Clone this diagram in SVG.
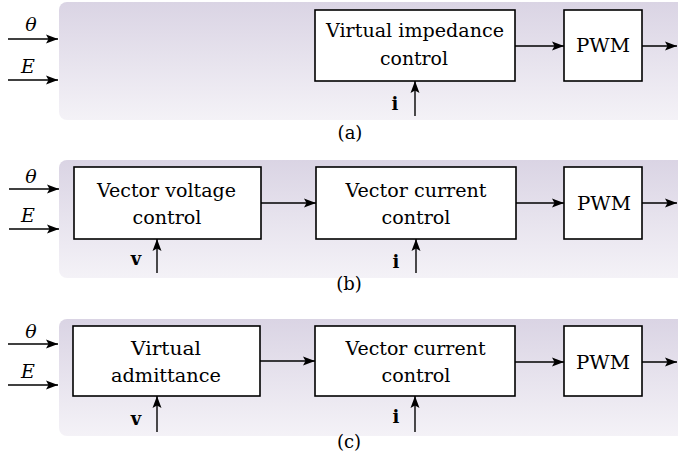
<svg xmlns="http://www.w3.org/2000/svg" width="678" height="465" viewBox="0 0 678 465">
<style>
.bg{fill:url(#g);stroke:none}
.box{fill:#fff;stroke:#000;stroke-width:1.6}
.ln{fill:none;stroke:#000;stroke-width:1.4;marker-end:url(#ah)}
.t{font-family:"DejaVu Serif","Liberation Serif",serif;font-size:19px;fill:#000;text-anchor:middle}
.m{font-family:"DejaVu Serif","Liberation Serif",serif;font-size:19px;font-style:italic;fill:#000;text-anchor:middle}
.b{font-family:"DejaVu Serif","Liberation Serif",serif;font-size:18px;font-weight:bold;fill:#000;text-anchor:middle}
.c{font-family:"DejaVu Serif","Liberation Serif",serif;font-size:18px;fill:#000;text-anchor:middle}
</style>
<defs>
<linearGradient id="g" x1="0" y1="0" x2="0" y2="1">
<stop offset="0" stop-color="#dad4e4"/>
<stop offset="1" stop-color="#f4f2f7"/>
</linearGradient>
<marker id="ah" viewBox="0 0 12 10" refX="12" refY="5" markerWidth="12" markerHeight="10" markerUnits="userSpaceOnUse" orient="auto">
<path d="M0,0.5 L12,5 L0,9.5 L2.5,5 z" fill="#000"/>
</marker>
</defs>

<!-- panel backgrounds -->
<g id="panels">
<rect class="bg" x="59" y="2" width="640" height="118" rx="8"/>
<rect class="bg" x="59" y="160" width="640" height="118" rx="8"/>
<rect class="bg" x="59" y="319" width="640" height="117" rx="8"/>
</g>

<!-- panel (a) -->
<g id="a-vic">
<rect class="box" x="315" y="10" width="200" height="71"/>
<text class="t" x="415" y="37" textLength="178" lengthAdjust="spacingAndGlyphs">Virtual impedance</text>
<text class="t" x="414" y="65" textLength="68" lengthAdjust="spacingAndGlyphs">control</text>
</g>
<g id="a-pwm">
<rect class="box" x="564" y="10" width="78" height="71"/>
<text class="t" x="603" y="52" textLength="54" lengthAdjust="spacingAndGlyphs">PWM</text>
</g>

<!-- panel (b) -->
<g id="b-vvc">
<rect class="box" x="74" y="167" width="187" height="72"/>
<text class="t" x="166.5" y="196.5" textLength="139" lengthAdjust="spacingAndGlyphs">Vector voltage</text>
<text class="t" x="167" y="223.5" textLength="69" lengthAdjust="spacingAndGlyphs">control</text>
</g>
<g id="b-vcc">
<rect class="box" x="316" y="167" width="200" height="72"/>
<text class="t" x="416" y="196.5" textLength="141" lengthAdjust="spacingAndGlyphs">Vector current</text>
<text class="t" x="416" y="223.5" textLength="69" lengthAdjust="spacingAndGlyphs">control</text>
</g>
<g id="b-pwm">
<rect class="box" x="564" y="167" width="78" height="72"/>
<text class="t" x="604" y="210" textLength="54" lengthAdjust="spacingAndGlyphs">PWM</text>
</g>

<!-- panel (c) -->
<g id="c-va">
<rect class="box" x="73" y="326" width="187" height="70"/>
<text class="t" x="166" y="355" textLength="70" lengthAdjust="spacingAndGlyphs">Virtual</text>
<text class="t" x="166" y="382" textLength="110" lengthAdjust="spacingAndGlyphs">admittance</text>
</g>
<g id="c-vcc">
<rect class="box" x="315" y="326" width="200" height="70"/>
<text class="t" x="415.5" y="355" textLength="140" lengthAdjust="spacingAndGlyphs">Vector current</text>
<text class="t" x="416" y="382" textLength="69" lengthAdjust="spacingAndGlyphs">control</text>
</g>
<g id="c-pwm">
<rect class="box" x="564" y="326" width="78" height="70"/>
<text class="t" x="603" y="369" textLength="54" lengthAdjust="spacingAndGlyphs">PWM</text>
</g>

<!-- connectors -->
<g id="connectors">
<line class="ln" x1="8" y1="39" x2="58" y2="39"/>
<line class="ln" x1="8" y1="80" x2="58" y2="80"/>
<line class="ln" x1="515" y1="46" x2="564" y2="46"/>
<line class="ln" x1="642" y1="46" x2="677" y2="46"/>
<line class="ln" x1="415" y1="116" x2="415" y2="81"/>

<line class="ln" x1="9" y1="189" x2="59" y2="189"/>
<line class="ln" x1="9" y1="229" x2="59" y2="229"/>
<line class="ln" x1="261" y1="203" x2="316" y2="203"/>
<line class="ln" x1="516" y1="203" x2="564" y2="203"/>
<line class="ln" x1="642" y1="203" x2="677" y2="203"/>
<line class="ln" x1="157" y1="273" x2="157" y2="239"/>
<line class="ln" x1="416" y1="273" x2="416" y2="239"/>

<line class="ln" x1="8" y1="344" x2="58" y2="344"/>
<line class="ln" x1="8" y1="385" x2="58" y2="385"/>
<line class="ln" x1="260" y1="361" x2="315" y2="361"/>
<line class="ln" x1="515" y1="362" x2="564" y2="362"/>
<line class="ln" x1="642" y1="362" x2="677" y2="362"/>
<line class="ln" x1="157" y1="432" x2="157" y2="396"/>
<line class="ln" x1="415" y1="432" x2="415" y2="396"/>
</g>

<!-- labels -->
<g id="labels">
<text class="m" x="31" y="31">θ</text>
<text class="m" x="28" y="73">E</text>
<text class="b" x="395" y="110">i</text>

<text class="m" x="31" y="183">θ</text>
<text class="m" x="28" y="222">E</text>
<text class="b" x="136" y="265">v</text>
<text class="b" x="396" y="268">i</text>

<text class="m" x="31" y="338">θ</text>
<text class="m" x="28" y="378">E</text>
<text class="b" x="136" y="425">v</text>
<text class="b" x="396" y="423">i</text>

<text class="c" x="350" y="139">(a)</text>
<text class="c" x="349" y="290">(b)</text>
<text class="c" x="349" y="448">(c)</text>
</g>
</svg>
